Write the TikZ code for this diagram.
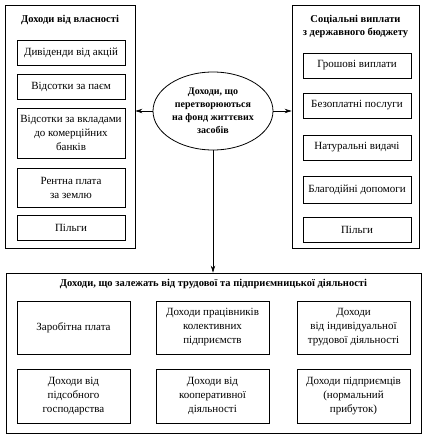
\documentclass[tikz,border=0pt]{standalone}
\usepackage{fontspec}
\setmainfont{Liberation Serif}
\usepackage{tikz}
\usetikzlibrary{shapes.geometric, arrows.meta, positioning}

\tikzset{
  group/.style={draw, line width=0.8pt, inner sep=0pt},
  item/.style={draw, line width=0.7pt, align=center, inner sep=1pt,
    font=\fontsize{11}{14}\selectfont},
  heading/.style={align=center, inner sep=0pt, font=\fontsize{10.5}{13}\selectfont\bfseries},
  link/.style={line width=0.7pt, -{Stealth[length=7pt, width=4.5pt]}}
}

\begin{document}
\begin{tikzpicture}[x=1pt, y=1pt]
    \path[use as bounding box] (0,0) rectangle (427,437);

    % left group
    \node[group, minimum width=130pt, minimum height=243pt] (property) at (70,310.5) {};
    \node[heading] (propertyTitle) at (70,417) {Доходи від власності};
    \node[item, minimum width=108pt, minimum height=25pt] (dividends) at (71,384.5) {Дивіденди від акцій};
    \node[item, minimum width=108pt, minimum height=25pt] (share) at (71,350.5) {Відсотки за паєм};
    \node[item, minimum width=108pt, minimum height=50pt] (deposits) at (71,304) {Відсотки за вкладами\\до комерційних\\банків};
    \node[item, minimum width=108pt, minimum height=39pt] (rent) at (71,249.5) {Рентна плата\\за землю};
    \node[item, minimum width=108pt, minimum height=25pt] (benefitsL) at (71,209.5) {Пільги};

    % right group
    \node[group, minimum width=127pt, minimum height=243pt] (social) at (355.5,310.5) {};
    \node[heading] (socialTitle) at (355.5,410.5) {Соціальні виплати\\з державного бюджету};
    \node[item, minimum width=108pt, minimum height=25pt] (cash) at (357,371.5) {Грошові виплати};
    \node[item, minimum width=108pt, minimum height=25pt] (services) at (357,331.5) {Безоплатні послуги};
    \node[item, minimum width=108pt, minimum height=25pt] (kind) at (357,289.5) {Натуральні видачі};
    \node[item, minimum width=108pt, minimum height=27pt] (charity) at (357,247.5) {Благодійні допомоги};
    \node[item, minimum width=108pt, minimum height=25pt] (benefitsR) at (357,207.5) {Пільги};

    % centre
    \node[ellipse, draw, line width=0.8pt, minimum width=120pt, minimum height=78pt,
      inner sep=0pt, align=center, font=\fontsize{10}{13}\selectfont\bfseries] (fund) at (213,326)
      {Доходи, що\\перетворюються\\на фонд життєвих\\засобів};

    % bottom group
    \node[group, minimum width=415pt, minimum height=160pt] (labour) at (213.5,84) {};
    \node[heading] (labourTitle) at (213.5,153) {Доходи, що залежать від трудової та підприємницької діяльності};
    \node[item, minimum width=113pt, minimum height=53pt] (wages) at (73.5,109.5) {Заробітна плата};
    \node[item, minimum width=113pt, minimum height=53pt] (collective) at (212.5,109.5) {Доходи працівників\\колективних\\підприємств};
    \node[item, minimum width=113pt, minimum height=53pt] (individual) at (353.5,109.5) {Доходи\\від індивідуальної\\трудової діяльності};
    \node[item, minimum width=113pt, minimum height=54pt] (household) at (73.5,41) {Доходи від\\підсобного\\господарства};
    \node[item, minimum width=113pt, minimum height=54pt] (cooperative) at (212.5,41) {Доходи від\\кооперативної\\діяльності};
    \node[item, minimum width=113pt, minimum height=54pt] (business) at (353.5,41) {Доходи підприємців\\(нормальний\\прибуток)};

    \draw[link] (fund.west) -- (fund.west -| property.east);
    \draw[link] (fund.east) -- (fund.east -| social.west);
    \draw[link] (fund.south) -- (fund.south |- labour.north);
\end{tikzpicture}
\end{document}
